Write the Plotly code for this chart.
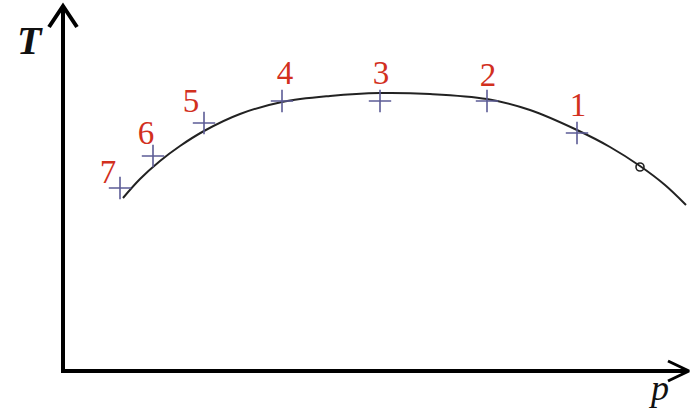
import plotly.graph_objects as go

# Canvas coordinates: p to the right, T upward (origin at lower-left corner)
W, H = 690, 411

# Smooth T(p) curve
curve_p = [123, 140, 160, 180, 204, 240, 282, 330, 380, 430, 487, 530, 577, 610, 640, 665, 686]
curve_T = [213, 232, 250, 265, 280, 297, 309, 315, 318, 317, 312, 301, 281, 264, 245, 226, 206]

# Numbered state points (plus markers) and their labels
point_ids = ["1", "2", "3", "4", "5", "6", "7"]
point_p = [577, 487, 380, 282, 204, 153, 120]
point_T = [278, 310, 310, 310, 288, 255, 223]
label_p = [578, 488, 381, 285, 191, 146, 108]
label_T = [303, 333, 335, 335, 307, 275, 236]

# Open circle near the right end of the curve
circle_p = [640]
circle_T = [244]

fig = go.Figure()

# Axes with open arrowheads
axis_color = "#000000"
fig.add_trace(go.Scatter(x=[63, 63], y=[H - 372, H - 8], mode="lines",
                         line=dict(color=axis_color, width=4), hoverinfo="skip"))
fig.add_trace(go.Scatter(x=[49, 63, 77], y=[H - 27, H - 6, H - 27], mode="lines",
                         line=dict(color=axis_color, width=4), hoverinfo="skip"))
fig.add_trace(go.Scatter(x=[61, 688], y=[H - 371, H - 371], mode="lines",
                         line=dict(color=axis_color, width=4), hoverinfo="skip"))
fig.add_trace(go.Scatter(x=[668, 689, 668], y=[H - 361, H - 371, H - 381], mode="lines",
                         line=dict(color=axis_color, width=3), hoverinfo="skip"))

# Curve
fig.add_trace(go.Scatter(x=curve_p, y=curve_T, mode="lines",
                         line=dict(color="#222222", width=2, shape="spline", smoothing=1.0),
                         hoverinfo="skip"))

# State points
fig.add_trace(go.Scatter(x=point_p, y=point_T, mode="markers",
                         marker=dict(symbol="cross-thin-open", size=16, color="#5c5c96",
                                     line=dict(color="#5c5c96", width=1.6)),
                         hoverinfo="skip"))
fig.add_trace(go.Scatter(x=circle_p, y=circle_T, mode="markers",
                         marker=dict(symbol="circle-open", size=8, color="#222222",
                                     line=dict(color="#222222", width=1.6)),
                         hoverinfo="skip"))

# Point numbers
fig.add_trace(go.Scatter(x=label_p, y=label_T, mode="text", text=point_ids,
                         textfont=dict(family="Liberation Serif", size=33, color="#d2301e"),
                         hoverinfo="skip"))

# Axis titles
fig.add_annotation(x=30, y=H - 40, text="<i><b>T</b></i>", showarrow=False,
                   font=dict(family="Liberation Serif", size=40, color="#111111"))
fig.add_annotation(x=658, y=H - 388, text="<i>p</i>", showarrow=False,
                   font=dict(family="Liberation Serif", size=36, color="#111111"))

fig.update_layout(
    width=W, height=H,
    margin=dict(l=0, r=0, t=0, b=0),
    paper_bgcolor="white", plot_bgcolor="white",
    showlegend=False,
    xaxis=dict(range=[0, W], visible=False, fixedrange=True),
    yaxis=dict(range=[0, H], visible=False, fixedrange=True),
)

fig.write_html("out.html")
